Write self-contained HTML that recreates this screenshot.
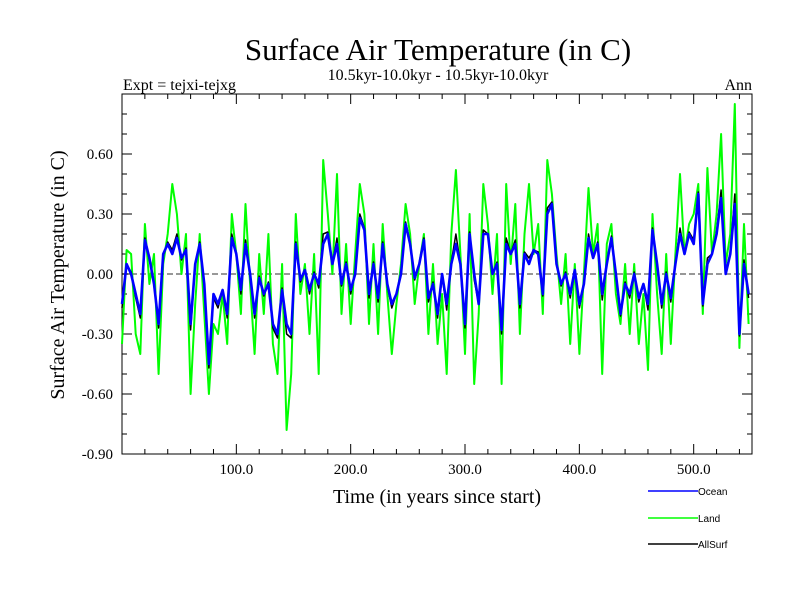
<!DOCTYPE html>
<html><head><meta charset="utf-8"><style>
body{margin:0;background:#fff;}
svg{display:block;font-family:"Liberation Serif",serif;}
</style></head><body>
<svg id="chart" width="800" height="600" xmlns="http://www.w3.org/2000/svg">
<rect width="800" height="600" fill="#fff"/>
<text x="438" y="60" font-size="31" text-anchor="middle">Surface Air Temperature (in C)</text>
<text x="438" y="80" font-size="16" text-anchor="middle">10.5kyr-10.0kyr - 10.5kyr-10.0kyr</text>
<text x="123" y="90" font-size="16">Expt = tejxi-tejxg</text>
<text x="752" y="90" font-size="16" text-anchor="end">Ann</text>
<text transform="translate(64,275) rotate(-90)" font-size="20" text-anchor="middle">Surface Air Temperature (in C)</text>
<text x="437" y="503" font-size="20" text-anchor="middle">Time (in years since start)</text>
<g id="axes"></g>
<g id="series"></g>
<g id="legend" font-family="Liberation Sans, sans-serif" font-size="10"></g>
</svg>
<script>
const years = [];
for (let i = 0; i <= 137; i++) years.push(i * 4);
const ocean = [-0.15,0.05,0.0,-0.1,-0.2,0.17,0.08,-0.05,-0.25,0.1,0.15,0.1,0.18,0.08,0.12,-0.25,0.05,0.15,-0.05,-0.45,-0.1,-0.15,-0.08,-0.2,0.18,0.1,-0.08,0.15,0.0,-0.2,-0.02,-0.1,-0.05,-0.25,-0.3,-0.08,-0.25,-0.3,0.15,-0.03,0.02,-0.08,0.0,-0.05,0.15,0.2,0.05,0.15,-0.05,0.05,-0.08,0.0,0.28,0.22,-0.1,0.05,-0.12,0.15,-0.05,-0.15,-0.1,0.0,0.25,0.15,-0.02,0.05,0.17,-0.12,-0.05,-0.2,0.0,-0.15,0.05,0.15,0.05,-0.25,0.2,0.0,-0.15,0.2,0.2,0.0,0.05,-0.28,0.15,0.1,0.15,-0.15,0.1,0.05,0.12,0.1,-0.1,0.3,0.35,0.05,-0.05,0.0,-0.1,0.02,-0.15,-0.05,0.18,0.08,0.15,-0.1,0.05,0.18,0.0,-0.2,-0.05,-0.1,0.0,-0.12,-0.05,-0.15,0.22,0.05,-0.15,0.0,-0.12,0.05,0.2,0.1,0.2,0.15,0.4,-0.15,0.05,0.1,0.2,0.38,0.0,0.1,0.35,-0.3,0.05,-0.1];
const land = [-0.35,0.12,0.1,-0.3,-0.4,0.25,-0.05,0.1,-0.5,0.05,0.2,0.45,0.3,0.0,0.2,-0.6,-0.15,0.2,-0.2,-0.6,-0.25,-0.3,-0.1,-0.35,0.3,0.1,-0.2,0.35,-0.05,-0.4,0.1,-0.2,0.2,-0.35,-0.5,0.05,-0.78,-0.5,0.3,-0.1,0.05,-0.3,0.1,-0.5,0.57,0.3,0.0,0.5,-0.2,0.15,-0.25,0.1,0.45,0.3,-0.25,0.15,-0.3,0.25,-0.1,-0.4,-0.15,0.05,0.35,0.2,-0.15,0.05,0.2,-0.3,0.05,-0.35,-0.1,-0.5,0.2,0.52,0.1,-0.4,0.3,-0.55,-0.2,0.45,0.25,-0.1,0.2,-0.55,0.45,0.05,0.35,-0.3,0.2,0.45,0.1,0.25,-0.2,0.57,0.4,0.1,-0.15,0.1,-0.35,0.05,-0.4,0.0,0.43,0.1,0.25,-0.5,0.15,0.25,-0.1,-0.25,0.05,-0.3,0.05,-0.35,-0.1,-0.48,0.3,-0.1,-0.4,0.1,-0.35,0.1,0.5,0.1,0.25,0.3,0.45,-0.2,0.53,0.1,0.3,0.7,0.05,0.2,0.85,-0.37,0.25,-0.25];
const allsurf = [-0.17,0.05,0.01,-0.12,-0.22,0.18,0.07,-0.04,-0.27,0.09,0.16,0.12,0.2,0.07,0.13,-0.28,0.04,0.16,-0.06,-0.47,-0.12,-0.17,-0.08,-0.22,0.2,0.1,-0.1,0.17,0.0,-0.22,-0.01,-0.11,-0.04,-0.27,-0.32,-0.07,-0.3,-0.32,0.16,-0.04,0.02,-0.1,0.01,-0.07,0.2,0.21,0.05,0.18,-0.06,0.06,-0.1,0.01,0.3,0.23,-0.12,0.06,-0.14,0.16,-0.06,-0.17,-0.1,0.0,0.26,0.16,-0.03,0.05,0.18,-0.14,-0.04,-0.22,-0.01,-0.18,0.06,0.2,0.05,-0.27,0.21,-0.03,-0.15,0.22,0.2,0.0,0.06,-0.3,0.18,0.1,0.17,-0.17,0.11,0.08,0.12,0.11,-0.11,0.33,0.36,0.05,-0.06,0.01,-0.12,0.02,-0.17,-0.05,0.2,0.08,0.16,-0.13,0.05,0.19,0.0,-0.21,-0.04,-0.12,0.01,-0.14,-0.05,-0.18,0.23,0.04,-0.17,0.01,-0.14,0.05,0.23,0.1,0.21,0.17,0.41,-0.16,0.08,0.1,0.21,0.42,0.0,0.11,0.4,-0.31,0.07,-0.12];
const yTicks = [-0.9,-0.6,-0.3,0.0,0.3,0.6];
const yTickLabels = ["-0.90","-0.60","-0.30","0.00","0.30","0.60"];
const xTicks = [100,200,300,400,500];
const xTickLabels = ["100.0","200.0","300.0","400.0","500.0"];

const L=122,R=752,T=94,B=454, XMIN=0, XMAX=551, YMIN=-0.9, YMAX=0.9;
const sx = v => L + (v - XMIN) / (XMAX - XMIN) * (R - L);
const sy = v => B - (v - YMIN) / (YMAX - YMIN) * (B - T);
const NS="http://www.w3.org/2000/svg";
function mk(tag, attrs, parent){const e=document.createElementNS(NS,tag);for(const k in attrs)e.setAttribute(k,attrs[k]);parent.appendChild(e);return e;}
const axes=document.getElementById('axes'), ser=document.getElementById('series'), leg=document.getElementById('legend');

const zero = mk('line',{x1:L,x2:R,y1:sy(0),y2:sy(0),stroke:'#777','stroke-width':1.5,'stroke-dasharray':'6,3'},axes);



function poly(xs, vs, color, w, name){
  const pts = vs.map((v,i)=>sx(xs[i]).toFixed(1)+','+sy(v).toFixed(1)).join(' ');
  const p = mk('polyline',{points:pts,fill:'none',stroke:color,'stroke-width':w,'stroke-linejoin':'round'},ser);
  
  
}
poly(years, land, '#00ff00', 2, 'land-series');
poly(years, allsurf, '#000', 1.5, 'allsurf-series');
poly(years, ocean, '#0000ff', 2.6, 'ocean-series');

const frame = mk('rect',{x:L,y:T,width:R-L,height:B-T,fill:'none',stroke:'#000','stroke-width':1},axes);



for(let v=20; v<XMAX; v+=20){
  const major = v%100===0, len = major?10:5;
  mk('line',{x1:sx(v),x2:sx(v),y1:B,y2:B-len,stroke:'#000'},axes);
  mk('line',{x1:sx(v),x2:sx(v),y1:T,y2:T+len,stroke:'#000'},axes);
}
for(let k=-8;k<=8;k++){
  const v=k/10, major=(k%3===0), len=major?10:5;
  mk('line',{x1:L,x2:L+len,y1:sy(v),y2:sy(v),stroke:'#000'},axes);
  mk('line',{x1:R,x2:R-len,y1:sy(v),y2:sy(v),stroke:'#000'},axes);
}
xTicks.forEach((v,i)=>{
  const t=mk('text',{x:sx(v),y:B+20,'font-size':15,'text-anchor':'middle'},axes);
  t.textContent=xTickLabels[i];
  
  
});
yTicks.forEach((v,i)=>{
  const t=mk('text',{x:L-9,y:sy(v)+5,'font-size':15,'text-anchor':'end'},axes);
  t.textContent=yTickLabels[i];
  
  
});
const legItems=[['Ocean','#0000ff',491],['Land','#00ff00',518],['AllSurf','#000',544]];
legItems.forEach(it=>{
  const g=mk('g',{},leg);
  
  
  mk('line',{x1:648,x2:698,y1:it[2],y2:it[2],stroke:it[1],'stroke-width':1.5},g);
  const t=mk('text',{x:698,y:it[2]+4},g);
  t.textContent=it[0];
});
</script>
</body></html>
